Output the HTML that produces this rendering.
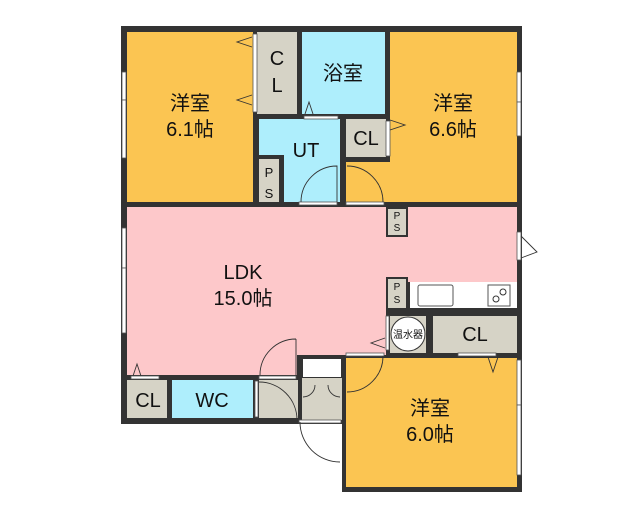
<!DOCTYPE html>
<html><head><meta charset="utf-8"><style>html,body{margin:0;padding:0;background:#fff}svg{display:block}text{font-family:"Liberation Sans","Noto Sans CJK JP",sans-serif;fill:#111}</style></head><body>
<svg width="640" height="512" viewBox="0 0 640 512" xmlns="http://www.w3.org/2000/svg">
<rect x="0" y="0" width="640" height="512" fill="#fff"/>
<rect x="121" y="26" width="401" height="181" fill="#333"/>
<rect x="121" y="202" width="401" height="115" fill="#333"/>
<rect x="121" y="300" width="226" height="125" fill="#333"/>
<rect x="342" y="300" width="180" height="192" fill="#333"/>
<rect x="127" y="32" width="126" height="170" fill="#fbc552"/>
<rect x="257" y="32" width="40" height="82" fill="#d6d3c6"/>
<rect x="302" y="32" width="83" height="82" fill="#aeeefc"/>
<rect x="259" y="119" width="81" height="83" fill="#aeeefc"/>
<rect x="257" y="155" width="27" height="47" fill="#333"/>
<rect x="259" y="159" width="20" height="43" fill="#d6d3c6"/>
<rect x="346" y="119" width="40" height="38" fill="#d6d3c6"/>
<rect x="390" y="32" width="127" height="170" fill="#fbc552"/>
<rect x="346" y="162" width="50" height="40" fill="#fbc552"/>
<rect x="127" y="207" width="390" height="75" fill="#fdc8ca"/>
<rect x="127" y="207" width="259" height="148" fill="#fdc8ca"/>
<rect x="127" y="280" width="170" height="95" fill="#fdc8ca"/>
<rect x="386" y="207" width="22" height="30" fill="#333"/>
<rect x="388" y="209" width="18" height="26" fill="#d6d3c6"/>
<rect x="386" y="277" width="22" height="35" fill="#333"/>
<rect x="388" y="279" width="18" height="29" fill="#d6d3c6"/>
<rect x="410" y="282" width="107" height="26" fill="#fff"/>
<rect x="418" y="285" width="35" height="21" rx="2" fill="#fff" stroke="#555"/>
<rect x="488" y="285" width="22" height="21" fill="#fff" stroke="#555"/>
<circle cx="496" cy="299" r="3" fill="none" stroke="#333"/><circle cx="503" cy="292" r="3" fill="none" stroke="#333"/>
<rect x="390" y="316" width="36" height="37" fill="#d6d3c6"/>
<circle cx="408" cy="334" r="17" fill="#fff" stroke="#333"/>
<rect x="433" y="316" width="84" height="37" fill="#d6d3c6"/>
<rect x="127" y="380" width="40" height="38" fill="#d6d3c6"/>
<rect x="172" y="380" width="81" height="38" fill="#aeeefc"/>
<rect x="259" y="380" width="39" height="38" fill="#d6d3c6"/>
<rect x="302" y="378" width="40" height="42" fill="#d6d3c6"/>
<rect x="303" y="359" width="38" height="18" fill="#fff"/>
<rect x="346" y="358" width="171" height="129" fill="#fbc552"/>
<rect x="121" y="424" width="221" height="70" fill="#fff"/>
<rect x="121" y="418" width="176" height="6" fill="#333"/>
<g fill="#fff" stroke="#555" stroke-width="0.8">
<rect x="122" y="72" width="4" height="28"/><rect x="122" y="100" width="4" height="58"/>
<rect x="122" y="228" width="4" height="40"/><rect x="122" y="268" width="4" height="65"/>
<rect x="517" y="72" width="4" height="30"/><rect x="517" y="102" width="4" height="34"/>
<rect x="517" y="232" width="4" height="28"/>
<rect x="517" y="360" width="4" height="45"/><rect x="517" y="405" width="4" height="70"/>
<rect x="253" y="34" width="4" height="78"/>
<rect x="386" y="121" width="4" height="35"/>
<rect x="304" y="116" width="34" height="3"/>
<rect x="299" y="202" width="38" height="3"/><rect x="346" y="202" width="38" height="3"/>
<rect x="386" y="316" width="3" height="34"/>
<rect x="346" y="353" width="38" height="3"/><rect x="458" y="353" width="38" height="3"/>
<rect x="131" y="376" width="28" height="3"/><rect x="259" y="376" width="37" height="3"/>
<rect x="255" y="381" width="3" height="36"/>
<rect x="299" y="420" width="42" height="3"/>
</g>
<g fill="none" stroke="#333" stroke-width="0.9">
<path d="M301 202 A36 36 0 0 1 337 166 L337 202"/>
<path d="M347 166 A36 36 0 0 1 383 202"/>
<path d="M347 392 A36 36 0 0 0 383 356"/>
<path d="M296 339 A36 36 0 0 0 260 375 M296 339 L296 375"/>
<path d="M259 382 A38 38 0 0 1 297 420"/>
<path d="M300 422 A40 40 0 0 0 340 462"/>
<path d="M303 397 A12 12 0 0 0 315 385 M340 397 A12 12 0 0 1 328 385"/>
<path d="M252 37 L237 42 L252 47 M252 95 L237 100 L252 105"/>
<path d="M390 120 L405 125 L390 130"/>
<path d="M305 114 L309 102 L313 114"/>
<path d="M385 338 L371 343 L385 348"/>
<path d="M133 376 L137 364 L141 376"/>
<path d="M488 357 L493 372 L498 357"/>
<path d="M521 236 L537 252 L521 258"/>
</g>
<g font-size="20" text-anchor="middle">
<text x="190" y="110">洋室</text><text x="190" y="136">6.1帖</text>
<text x="453" y="110">洋室</text><text x="453" y="136">6.6帖</text>
<text x="343" y="80">浴室</text>
<text x="243" y="279">LDK</text><text x="243" y="305">15.0帖</text>
<text x="430" y="415">洋室</text><text x="430" y="441">6.0帖</text>
<text x="277" y="65">C</text><text x="277" y="92">L</text>
<text x="306" y="157">UT</text>
<text x="366" y="145">CL</text>
<text x="475" y="341">CL</text>
<text x="148" y="407">CL</text>
<text x="212" y="407">WC</text>
</g>
<g font-size="13" text-anchor="middle">
<text x="269" y="177">P</text><text x="269" y="198">S</text>
</g>
<g font-size="10" text-anchor="middle">
<text x="397" y="219">P</text><text x="397" y="231">S</text>
<text x="397" y="290">P</text><text x="397" y="303">S</text>
<text x="408" y="338">温水器</text>
</g>
</svg>
</body></html>
